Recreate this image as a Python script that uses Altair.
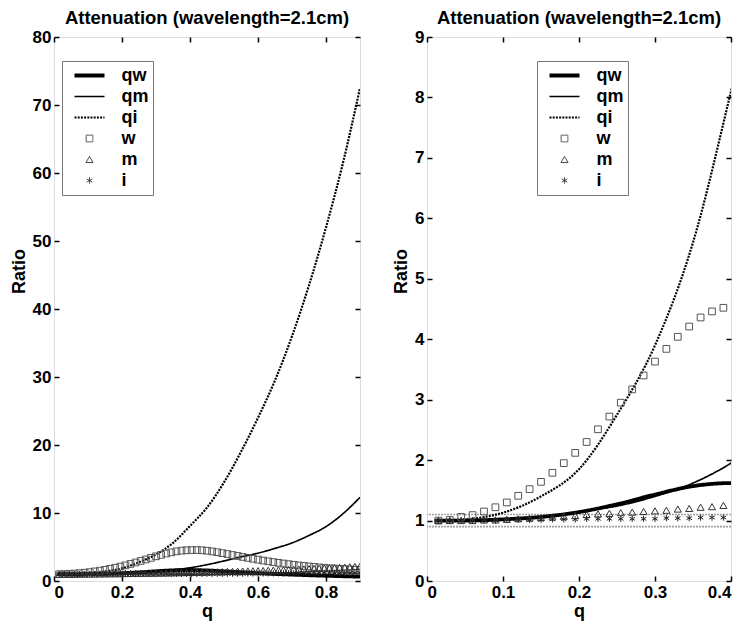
import altair as alt
import pandas as pd

FONT = "Liberation Sans"

# ---------------- data ----------------
series_names = ["qw", "qm", "qi", "w", "m", "i"]

q_line = [0.01, 0.05, 0.10, 0.15, 0.20, 0.25, 0.30, 0.35, 0.40, 0.45,
          0.50, 0.55, 0.60, 0.65, 0.70, 0.75, 0.80, 0.85, 0.90]
qw_vals = [1.00, 1.00, 1.02, 1.06, 1.14, 1.27, 1.43, 1.57, 1.62, 1.55,
           1.43, 1.29, 1.16, 1.04, 0.94, 0.85, 0.77, 0.70, 0.64]
qm_vals = [1.00, 1.00, 1.02, 1.06, 1.15, 1.24, 1.40, 1.62, 1.95, 2.40,
           2.95, 3.55, 4.10, 4.80, 5.60, 6.70, 8.00, 9.90, 12.3]
qi_vals = [1.00, 1.02, 1.13, 1.40, 1.85, 2.75, 3.90, 5.60, 8.10, 10.8,
           14.5, 19.0, 24.0, 29.5, 36.0, 43.5, 52.0, 61.5, 72.5]

q_pts = [0.015, 0.030, 0.045, 0.060, 0.075, 0.090, 0.105, 0.120, 0.135, 0.150,
         0.165, 0.180, 0.195, 0.210, 0.225, 0.240, 0.255, 0.270, 0.285, 0.300,
         0.315, 0.330, 0.345, 0.360, 0.375, 0.390, 0.405, 0.420, 0.435, 0.450,
         0.465, 0.480, 0.495, 0.510, 0.525, 0.540, 0.555, 0.570, 0.585, 0.600,
         0.615, 0.630, 0.645, 0.660, 0.675, 0.690, 0.705, 0.720, 0.735, 0.750,
         0.765, 0.780, 0.795, 0.810, 0.825, 0.840, 0.855, 0.870, 0.885, 0.900]
w_vals = [1.00, 1.01, 1.06, 1.09, 1.15, 1.22, 1.30, 1.41, 1.52, 1.64,
          1.79, 1.95, 2.12, 2.30, 2.51, 2.72, 2.95, 3.17, 3.40, 3.63,
          3.84, 4.04, 4.21, 4.36, 4.46, 4.52, 4.55, 4.55, 4.52, 4.45,
          4.35, 4.23, 4.10, 3.96, 3.82, 3.68, 3.54, 3.40, 3.27, 3.14,
          3.01, 2.89, 2.78, 2.67, 2.57, 2.47, 2.38, 2.29, 2.21, 2.14,
          2.07, 2.00, 1.94, 1.88, 1.83, 1.78, 1.73, 1.69, 1.65, 1.62]
m_vals = [1.00, 1.00, 1.00, 1.00, 1.01, 1.01, 1.02, 1.03, 1.04, 1.05,
          1.06, 1.07, 1.08, 1.10, 1.11, 1.12, 1.13, 1.14, 1.15, 1.16,
          1.17, 1.19, 1.20, 1.22, 1.23, 1.25, 1.26, 1.28, 1.30, 1.32,
          1.34, 1.36, 1.38, 1.40, 1.42, 1.44, 1.46, 1.48, 1.50, 1.52,
          1.54, 1.57, 1.60, 1.63, 1.66, 1.69, 1.72, 1.75, 1.78, 1.81,
          1.84, 1.87, 1.90, 1.93, 1.97, 2.01, 2.05, 2.09, 2.13, 2.18]
i_vals = [1.00, 1.00, 1.00, 1.00, 1.00, 1.00, 1.01, 1.01, 1.01, 1.01,
          1.02, 1.02, 1.02, 1.03, 1.03, 1.03, 1.03, 1.03, 1.03, 1.03,
          1.04, 1.04, 1.04, 1.05, 1.05, 1.05, 1.05, 1.06, 1.06, 1.07,
          1.07, 1.08, 1.08, 1.09, 1.09, 1.10, 1.10, 1.11, 1.11, 1.12,
          1.12, 1.13, 1.13, 1.14, 1.14, 1.15, 1.15, 1.16, 1.16, 1.17,
          1.17, 1.18, 1.18, 1.19, 1.19, 1.20, 1.20, 1.21, 1.21, 1.22]

ref_levels = [0.9, 1.1]

left_xticks = [0, 0.2, 0.4, 0.6, 0.8]
left_yticks = [0, 10, 20, 30, 40, 50, 60, 70, 80]
right_xticks = [0, 0.1, 0.2, 0.3, 0.4]
right_yticks = [0, 1, 2, 3, 4, 5, 6, 7, 8, 9]

title_text = "Attenuation (wavelength=2.1cm)"

# ---------------- tables ----------------
line_rows = []
for name, vals in [("qw", qw_vals), ("qm", qm_vals), ("qi", qi_vals)]:
    for q, v in zip(q_line, vals):
        line_rows.append({"q": q, "ratio": v, "series": name})
line_df = pd.DataFrame(line_rows)

pt_rows = []
for name, vals in [("w", w_vals), ("m", m_vals), ("i", i_vals)]:
    for q, v in zip(q_pts, vals):
        pt_rows.append({"q": q, "ratio": v, "series": name})
pt_df = pd.DataFrame(pt_rows)

ref_df = pd.DataFrame({"level": ref_levels})

ASTERISK = "M0,-1L0,1M-0.866,-0.5L0.866,0.5M-0.866,0.5L0.866,-0.5"

color_scale = alt.Scale(domain=series_names,
                        range=["#000000", "#000000", "#000000", "#555555", "#333333", "#222222"])
dash_scale = alt.Scale(domain=series_names,
                       range=[[1, 0], [1, 0], [2, 1.2], [1, 0], [1, 0], [1, 0]])
width_scale = alt.Scale(type="ordinal", domain=series_names,
                        range=[3.8, 1.7, 2.2, 1, 1, 1])
shape_scale = alt.Scale(domain=series_names,
                        range=["stroke", "stroke", "stroke", "square", "triangle-up", ASTERISK])
size_scale = alt.Scale(type="ordinal", domain=series_names,
                       range=[900, 900, 900, 45, 50, 40])


def make_legend(lx):
    return alt.Legend(title=None, orient="none", legendX=lx, legendY=24,
                      padding=4, clipHeight=21, rowPadding=0,
                      symbolOffset=6.5, labelOffset=15,
                      labelFont=FONT, labelFontSize=18, labelFontWeight="bold",
                      labelColor="black", strokeColor="#777777", fillColor="white",
                      cornerRadius=0, labelExpr="datum.label + '   '")


def tick_axis(orient, values, fmt=None, title=None, labels=True):
    kw = dict(orient=orient, values=values, domain=False, grid=False,
              ticks=True, tickSize=5, tickWidth=1.5, tickColor="black",
              offset=-5, labels=labels)
    if labels:
        kw.update(labelFont=FONT, labelFontSize=17, labelFontWeight="bold",
                  labelColor="black", labelPadding=3, format=fmt)
    if title:
        kw.update(title=title, titleFont=FONT, titleFontSize=18,
                  titleFontWeight="bold", titleColor="black",
                  titlePadding=(4 if orient == "left" else 2))
        if orient == "left":
            kw.update(titleY=234)
    else:
        kw.update(title=None)
    return alt.Axis(**kw)


def panel(xmax, ymax, xticks, yticks, yfmt, lx, width):
    xs = alt.Scale(domain=[0, xmax], nice=False, zero=False)
    ys = alt.Scale(domain=[0, ymax], nice=False)
    legend = make_legend(lx)

    refs = alt.Chart(ref_df).mark_rule(color="#a0a0a0", strokeWidth=1.6,
                                        strokeDash=[2, 1]).encode(
        y=alt.Y("level:Q", scale=ys, axis=None)
    )

    lines = alt.Chart(line_df).mark_line(clip=True, interpolate="monotone").encode(
        x=alt.X("q:Q", scale=xs, axis=tick_axis("bottom", xticks, "~g", "q")),
        y=alt.Y("ratio:Q", scale=ys, axis=tick_axis("left", yticks, yfmt, "Ratio")),
        color=alt.Color("series:N", scale=color_scale, legend=legend),
        strokeDash=alt.StrokeDash("series:N", scale=dash_scale, legend=legend),
        strokeWidth=alt.StrokeWidth("series:N", scale=width_scale, legend=legend),
        detail="series:N",
    )

    pts = alt.Chart(pt_df).mark_point(clip=True, filled=False, opacity=1,
                                      strokeWidth=1).encode(
        x=alt.X("q:Q", scale=xs, axis=tick_axis("top", xticks, labels=False)),
        y=alt.Y("ratio:Q", scale=ys, axis=tick_axis("right", yticks, labels=False)),
        color=alt.Color("series:N", scale=color_scale, legend=legend),
        shape=alt.Shape("series:N", scale=shape_scale, legend=legend),
        size=alt.Size("series:N", scale=size_scale, legend=legend),
    )

    return alt.layer(refs, lines, pts).resolve_axis(
        x="independent", y="independent"
    ).properties(
        width=width, height=544,
        title=alt.TitleParams(title_text, font=FONT, fontSize=18.5,
                              fontWeight="bold", color="black", offset=1),
    )


left = panel(0.9, 80, left_xticks, left_yticks, "d", 8, 306)
right = panel(0.4, 9, right_xticks, right_yticks, "d", 110, 304)

res = dict(color="independent", shape="independent", size="independent",
           strokeDash="independent", strokeWidth="independent",
           x="independent", y="independent")

chart = alt.hconcat(left, right, spacing=30).resolve_scale(**res).resolve_legend(
    color="independent", shape="independent", size="independent",
    strokeDash="independent", strokeWidth="independent"
).properties(
    padding={"left": 1, "top": 0, "right": 0, "bottom": 0}
).configure_view(stroke="black", strokeWidth=2).configure(background="white")

chart.save("out.html", embed_options={"renderer": "svg", "actions": False})
